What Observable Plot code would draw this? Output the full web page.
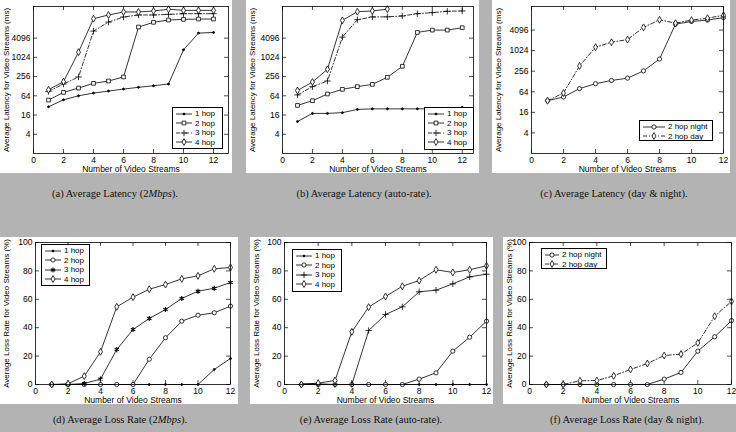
<!DOCTYPE html>
<html><head><meta charset="utf-8">
<script src="https://cdn.jsdelivr.net/npm/d3@7"></script>
<script src="https://cdn.jsdelivr.net/npm/@observablehq/plot@0.6"></script>
<style>
html,body{margin:0;padding:0;}
body{width:736px;height:432px;background:#b3b3b3;position:relative;overflow:hidden;font-family:"Liberation Sans",Arial,sans-serif;}
.panel{position:absolute;background:#fff;}
.panel svg{display:block;}
.legend{position:absolute;border:1px solid #000;background:#fff;font-size:8px;box-sizing:border-box;padding:1px 0 0 2px;white-space:nowrap;}
.legend .row{display:flex;align-items:center;height:9.5px;line-height:9.5px;}
.legend svg{margin-right:2px;flex:none;}
.caption{position:absolute;font-family:"Liberation Serif","Times New Roman",serif;font-size:10.5px;white-space:nowrap;transform:translateX(-50%);color:#111;}
</style></head><body>
<script>
// ---------------- data ----------------
const streams = [1,2,3,4,5,6,7,8,9,10,11,12];
const xTicks = [0,2,4,6,8,10,12];
const latencyTicks = [4,16,64,256,1024,4096];
const lossTicks = [0,20,40,60,80,100];

// (a) latency, 2 Mbps (ms)
const lat2M_1hop = [29,48,64,78,90,104,118,132,150,1760,5880,6160];
const lat2M_2hop = [47,82,112,157,186,249,9100,12800,15100,15800,16200,16200];
const lat2M_3hop = [88,150,249,6800,13000,18800,21700,21700,22700,23800,23800,23800];
const lat2M_4hop = [99,177,1490,16600,21700,27000,27000,29000,32768,30300,30300,30300];

// (b) latency, auto-rate (ms)
const latAuto_1hop = [10,18,18,19,24,25,25,25,25,25,25,28];
const latAuto_2hop = [32,45,73,102,124,146,243,537,6170,7300,7300,8660];
const latAuto_3hop = [68,124,186,4400,15500,18800,19000,20200,23800,25700,28300,29000];
const latAuto_4hop = [94,173,433,14700,27500,29000,33000,null,null,null,null,null];

// (c) latency, day & night (ms)
const latNight_2hop = [35,45,79,110,137,160,261,580,6100,7300,8000,9500];
const latDay_2hop = [35,59,364,1290,1800,2150,4900,8150,6500,8000,9100,11100];

// (d) loss rate, 2 Mbps (%)
const loss2M_1hop = [0,0,0,0,0,0,0,0,0,0,10.6,18.3];
const loss2M_2hop = [0,0,0,0,0,0,17.8,32.9,44.6,48.8,50.5,55.2];
const loss2M_3hop = [0,0,0.7,3.8,24.6,38.7,46.5,52.8,60.6,65.7,67.8,71.8];
const loss2M_4hop = [0,0.5,5.9,23,54.7,61.5,67.1,70.4,74.4,76.5,81.5,82.4];

// (e) loss rate, auto-rate (%)
const lossAuto_1hop = [0.5,0.5,0,0,0,0,0,0,0,0,0,0];
const lossAuto_2hop = [0,0,0,0,0,0,0,3.8,8.2,23.5,33.3,44.6];
const lossAuto_3hop = [0,0,0,0,38,49.3,54.7,65.3,66.4,70.9,75.8,77.7];
const lossAuto_4hop = [0,1,2.8,37.1,54.5,62,69.2,73.2,80.8,78.9,80.8,83.6];

// (f) loss rate, day & night (%)
const lossNight_2hop = [0,0,0,0,0,0,0,3.8,8.5,23.5,33.6,45];
const lossDay_2hop = [0,0,2.6,2.8,6.1,10.6,14.8,20.4,21.4,29.3,48.1,58.5];

const hopNames = ["1 hop","2 hop","3 hop","4 hop"];
const captions = [
  "(a) Average Latency (2<i>Mbps</i>).",
  "(b) Average Latency (auto-rate).",
  "(c) Average Latency (day &amp; night).",
  "(d) Average Loss Rate (2<i>Mbps</i>).",
  "(e) Average Loss Rate (auto-rate).",
  "(f) Average Loss Rate (day &amp; night)."
];

// ---------------- drawing ----------------
const DASHDOT = "4,2,1,2";
const symMap = {circle: d3.symbolCircle, square: d3.symbolSquare, plus: d3.symbolPlus,
  diamond: d3.symbolDiamond, asterisk: d3.symbolAsterisk, times: d3.symbolTimes};

function sty(sym) {
  if (sym === "point") return {symbol: "circle", r: 1, fill: "#000", stroke: "#000", strokeWidth: 0.8};
  if (sym === "asterisk") return {symbol: "asterisk", r: 2.4, fill: "none", stroke: "#000", strokeWidth: 1.1};
  if (sym === "plus") return {symbol: "plus", r: 2.2, fill: "none", stroke: "#000", strokeWidth: 0.8};
  return {symbol: sym, r: 2.1, fill: "#fff", stroke: "#000", strokeWidth: 0.8};
}

function makePanel(c) {
  const fw = c.width - c.ml - c.mr, fh = c.height - c.mt - c.mb;
  const marks = [
    Plot.tickY(c.yTicks, {y: d => d, insetRight: fw - 4, stroke: "#000", strokeWidth: 0.7}),
    Plot.tickY(c.yTicks, {y: d => d, insetLeft: fw - 4, stroke: "#000", strokeWidth: 0.7}),
    Plot.tickX(xTicks, {x: d => d, insetTop: fh - 4, stroke: "#000", strokeWidth: 0.7}),
    Plot.tickX(xTicks, {x: d => d, insetBottom: fh - 4, stroke: "#000", strokeWidth: 0.7}),
    Plot.axisY({ticks: c.yTicks, tickSize: 0, tickPadding: 3, tickFormat: d => String(d),
      label: c.ylabel, labelAnchor: "center", labelOffset: c.ml - 3, labelArrow: "none"}),
    Plot.axisX({ticks: xTicks, tickSize: 0, tickPadding: 3, tickFormat: d => String(d),
      label: "Number of Video Streams", labelAnchor: "center", labelOffset: c.mb - 2, labelArrow: "none"})
  ];
  for (const s of c.series) {
    const rows = streams.map((x, i) => ({x, y: s.values[i]})).filter(d => d.y != null);
    marks.push(Plot.line(rows, {x: "x", y: "y", stroke: "#000", strokeWidth: 0.8,
      strokeDasharray: s.dash ? DASHDOT : null}));
    marks.push(Plot.dot(rows, {x: "x", y: "y", ...sty(s.symbol)}));
  }
  marks.push(Plot.frame({stroke: "#000", strokeWidth: 0.8}));
  const plot = Plot.plot({
    width: c.width, height: c.height,
    marginLeft: c.ml, marginRight: c.mr, marginTop: c.mt, marginBottom: c.mb,
    style: {fontFamily: "'Liberation Sans', Arial, sans-serif", fontSize: "8.5px", background: "#fff", color: "#000"},
    x: {domain: [0, c.xMax]},
    y: c.log ? {type: "log", base: 2, domain: c.yDomain} : {domain: c.yDomain},
    marks
  });
  plot.querySelectorAll('[aria-label="y-axis label"] text, [aria-label="y-axis label"]').forEach(e => {
    e.setAttribute("font-size", "8px"); e.style.fontSize = "8px";
  });
  const div = document.createElement("div");
  div.className = "panel";
  div.style.left = c.left + "px"; div.style.top = c.top + "px";
  div.style.width = c.width + "px"; div.style.height = c.height + "px";
  div.appendChild(plot);
  document.body.appendChild(div);

  // legend
  const L = c.legend;
  const lg = document.createElement("div");
  lg.className = "legend";
  lg.style.left = L.left + "px"; lg.style.top = L.top + "px";
  lg.style.width = L.width + "px"; lg.style.height = L.height + "px";
  for (const s of c.series) {
    const row = document.createElement("div");
    row.className = "row";
    const sw = L.sample || 18;
    const svg = d3.create("svg").attr("width", sw).attr("height", 8);
    svg.append("line").attr("x1", 1).attr("x2", sw - 1).attr("y1", 4).attr("y2", 4)
      .attr("stroke", "#000").attr("stroke-width", 0.8)
      .attr("stroke-dasharray", s.dash ? DASHDOT : null);
    const st = sty(s.symbol);
    svg.append("path").attr("transform", `translate(${sw / 2},4)`)
      .attr("d", d3.symbol(symMap[st.symbol], Math.PI * st.r * st.r)())
      .attr("fill", st.fill).attr("stroke", st.stroke).attr("stroke-width", st.strokeWidth);
    row.appendChild(svg.node());
    const t = document.createElement("span");
    t.textContent = s.name;
    row.appendChild(t);
    lg.appendChild(row);
  }
  document.body.appendChild(lg);
}

const latLabel = "Average Latency for Video Streams (ms)";
const lossLabel = "Average Loss Rate for Video Streams (%)";
const mkHops = (vals, syms, dashes) => vals.map((v, i) => ({name: hopNames[i], values: v, symbol: syms[i], dash: dashes[i]}));

// row 1
makePanel({left: 0, top: 0, width: 232, height: 173, ml: 33, mr: 4, mt: 6, mb: 20,
  xMax: 13, log: true, yDomain: [1, 40000], yTicks: latencyTicks, ylabel: latLabel,
  series: mkHops([lat2M_1hop, lat2M_2hop, lat2M_3hop, lat2M_4hop], ["point","square","plus","diamond"], [false,false,true,false]),
  legend: {left: 172, top: 107, width: 51, height: 42}});
makePanel({left: 246, top: 0, width: 233, height: 173, ml: 36, mr: 6, mt: 6, mb: 20,
  xMax: 12.75, log: true, yDomain: [1, 40000], yTicks: latencyTicks, ylabel: latLabel,
  series: mkHops([latAuto_1hop, latAuto_2hop, latAuto_3hop, latAuto_4hop], ["point","square","plus","diamond"], [false,false,true,false]),
  legend: {left: 424, top: 107, width: 50, height: 43}});
makePanel({left: 492, top: 0, width: 238, height: 173, ml: 39, mr: 7, mt: 6, mb: 20,
  xMax: 12, log: true, yDomain: [1, 20000], yTicks: latencyTicks, ylabel: latLabel,
  series: [{name: "2 hop night", values: latNight_2hop, symbol: "circle", dash: false},
           {name: "2 hop day", values: latDay_2hop, symbol: "diamond", dash: true}],
  legend: {left: 639, top: 120, width: 74, height: 21, sample: 24}});

// row 2
makePanel({left: 0, top: 237, width: 238, height: 167, ml: 35, mr: 8, mt: 5, mb: 20,
  xMax: 12, log: false, yDomain: [0, 100], yTicks: lossTicks, ylabel: lossLabel,
  series: mkHops([loss2M_1hop, loss2M_2hop, loss2M_3hop, loss2M_4hop], ["point","circle","asterisk","diamond"], [false,false,false,false]),
  legend: {left: 41, top: 244, width: 49, height: 42}});
makePanel({left: 250, top: 237, width: 243, height: 167, ml: 34, mr: 7, mt: 5, mb: 20,
  xMax: 12, log: false, yDomain: [0, 100], yTicks: lossTicks, ylabel: lossLabel,
  series: mkHops([lossAuto_1hop, lossAuto_2hop, lossAuto_3hop, lossAuto_4hop], ["point","circle","plus","diamond"], [false,false,false,false]),
  legend: {left: 292, top: 249, width: 50, height: 43}});
makePanel({left: 503, top: 237, width: 233, height: 167, ml: 26, mr: 5, mt: 5, mb: 20,
  xMax: 12, log: false, yDomain: [0, 100], yTicks: lossTicks, ylabel: lossLabel,
  series: [{name: "2 hop night", values: lossNight_2hop, symbol: "circle", dash: false},
           {name: "2 hop day", values: lossDay_2hop, symbol: "diamond", dash: true}],
  legend: {left: 541, top: 248, width: 66, height: 21, sample: 16}});

// captions
const capPos = [[115,188],[364,188],[614,188],[120,414],[371,414],[627,414]];
captions.forEach((t, i) => {
  const d = document.createElement("div");
  d.className = "caption";
  d.innerHTML = t;
  d.style.left = capPos[i][0] + "px"; d.style.top = capPos[i][1] + "px";
  document.body.appendChild(d);
});
</script>
</body></html>
